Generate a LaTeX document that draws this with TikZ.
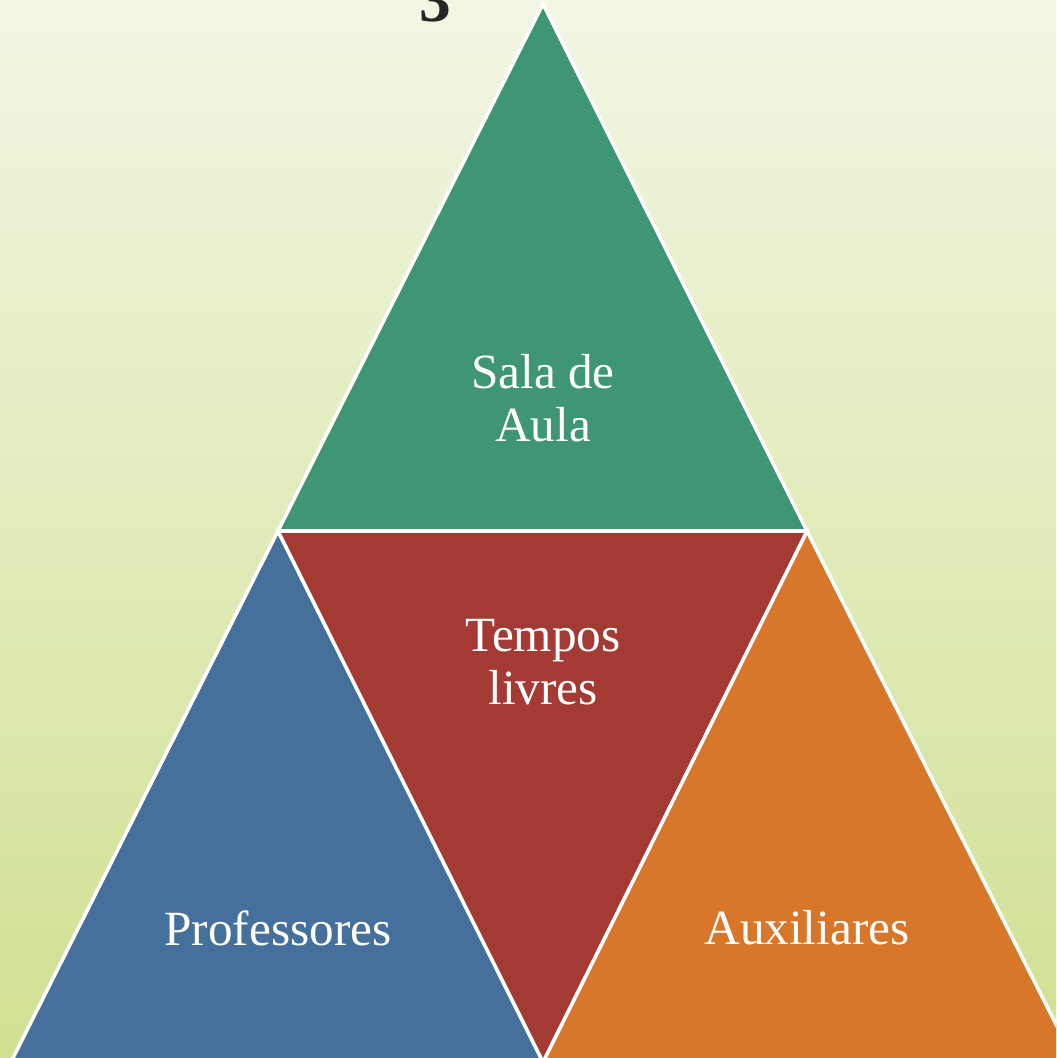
\documentclass[tikz,border=0pt]{standalone}
\usepackage{fontspec}
\setmainfont{Liberation Serif}
\definecolor{bgtop}{RGB}{242,246,227}
\definecolor{bgbottom}{RGB}{208,224,146}
\definecolor{salagreen}{RGB}{62,150,115}
\definecolor{temposred}{RGB}{163,58,51}
\definecolor{profblue}{RGB}{70,112,156}
\definecolor{auxorange}{RGB}{216,119,42}
\tikzset{
    piece/.style={draw=white, line width=1pt, line join=miter},
    label/.style={text=white, align=center, font=\fontsize{14}{15}\selectfont},
}
\begin{document}
\begin{tikzpicture}[x=0.01cm, y=-0.01cm]
        \useasboundingbox (0, 0) rectangle (1056, 1058);
        \clip (0, 0) rectangle (1056, 1058);
        \shade[top color=bgtop, bottom color=bgbottom] (0, 0) rectangle (1056, 1058);
        % cut-off title
        \node[anchor=base, text=black!85, font=\fontsize{18}{18}\bfseries] (title) at (435, 22) {3};
        % corners of the big triangle
        \coordinate (top) at (543, 4);
        \coordinate (midl) at (278, 531);
        \coordinate (midr) at (807, 531);
        \coordinate (botl) at (11, 1062);
        \coordinate (botm) at (543, 1062);
        \coordinate (botr) at (1075, 1062);
        \begin{scope}
            \filldraw[piece, fill=salagreen] (top) -- (midr) -- (midl) -- cycle;
            \filldraw[piece, fill=profblue] (midl) -- (botm) -- (botl) -- cycle;
            \filldraw[piece, fill=auxorange] (midr) -- (botr) -- (botm) -- cycle;
            \filldraw[piece, fill=temposred] (midl) -- (midr) -- (botm) -- cycle;
        \end{scope}
        \node[label] (sala) at (543, 398) {Sala de\\Aula};
        \node[label] (tempos) at (543, 662) {Tempos\\livres};
        \node[label] (prof) at (278, 928) {Professores};
        \node[label] (aux) at (807, 928) {Auxiliares};
    \end{tikzpicture}
\end{document}
